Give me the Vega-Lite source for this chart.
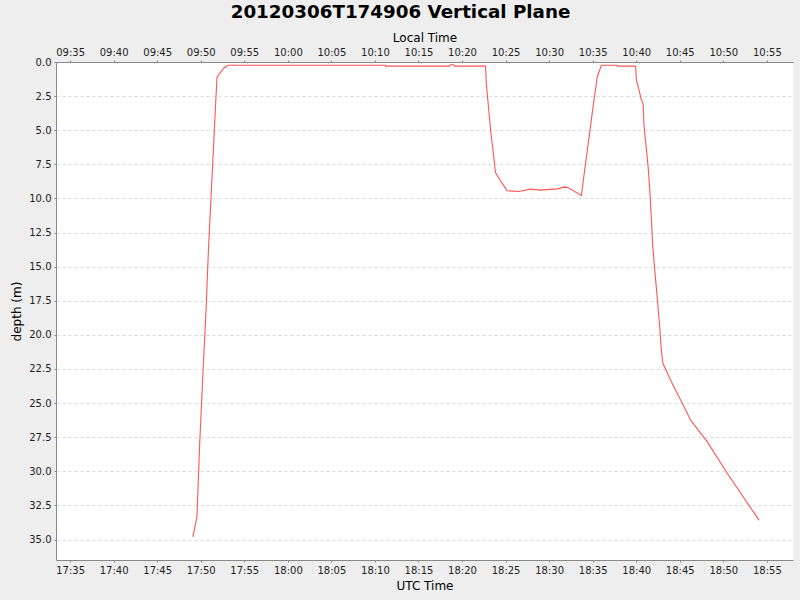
{
  "$schema": "https://vega.github.io/schema/vega-lite/v6.json",
  "description": "Glider dive depth over time, UTC on the bottom axis and local time on top.",
  "width": 737,
  "height": 498,
  "autosize": "none",
  "padding": {"left": 56, "top": 62, "right": 7, "bottom": 40},
  "background": "#eeeeee",
  "title": {
    "text": "20120306T174906 Vertical Plane",
    "font": "DejaVu Sans",
    "fontSize": 18.3,
    "fontWeight": "bold",
    "color": "#000000",
    "anchor": "middle",
    "dx": -24,
    "offset": 9
  },
  "config": {
    "view": {"fill": "#ffffff", "stroke": null},
    "axis": {
      "labelFont": "DejaVu Sans",
      "labelFontSize": 10,
      "labelColor": "#222222",
      "titleFont": "DejaVu Sans",
      "titleFontSize": 12,
      "titleFontWeight": "normal",
      "titleColor": "#000000",
      "domainColor": "#888888",
      "tickColor": "#888888",
      "tickSize": 2,
      "labelPadding": 3,
      "titlePadding": 3
    }
  },
  "data": {
    "values": [
      {"time": "2012-03-06T17:49:06Z", "depth": 34.8},
      {"time": "2012-03-06T17:49:34Z", "depth": 33.35},
      {"time": "2012-03-06T17:49:52Z", "depth": 28.2},
      {"time": "2012-03-06T17:50:13Z", "depth": 23.3},
      {"time": "2012-03-06T17:50:36Z", "depth": 18.3},
      {"time": "2012-03-06T17:50:54Z", "depth": 13.55},
      {"time": "2012-03-06T17:51:17Z", "depth": 8.66},
      {"time": "2012-03-06T17:51:37Z", "depth": 4.26},
      {"time": "2012-03-06T17:51:52Z", "depth": 1.12},
      {"time": "2012-03-06T17:52:37Z", "depth": 0.46},
      {"time": "2012-03-06T17:53:08Z", "depth": 0.24},
      {"time": "2012-03-06T18:11:12Z", "depth": 0.24},
      {"time": "2012-03-06T18:11:14Z", "depth": 0.3},
      {"time": "2012-03-06T18:18:35Z", "depth": 0.3},
      {"time": "2012-03-06T18:18:41Z", "depth": 0.2},
      {"time": "2012-03-06T18:19:02Z", "depth": 0.2},
      {"time": "2012-03-06T18:19:08Z", "depth": 0.3},
      {"time": "2012-03-06T18:22:42Z", "depth": 0.3},
      {"time": "2012-03-06T18:22:47Z", "depth": 1.56},
      {"time": "2012-03-06T18:23:17Z", "depth": 4.99},
      {"time": "2012-03-06T18:23:51Z", "depth": 8.12},
      {"time": "2012-03-06T18:24:37Z", "depth": 8.9},
      {"time": "2012-03-06T18:25:11Z", "depth": 9.44},
      {"time": "2012-03-06T18:26:32Z", "depth": 9.49},
      {"time": "2012-03-06T18:27:52Z", "depth": 9.32},
      {"time": "2012-03-06T18:29:01Z", "depth": 9.39},
      {"time": "2012-03-06T18:30:56Z", "depth": 9.3},
      {"time": "2012-03-06T18:31:42Z", "depth": 9.17},
      {"time": "2012-03-06T18:32:05Z", "depth": 9.19},
      {"time": "2012-03-06T18:33:42Z", "depth": 9.78},
      {"time": "2012-03-06T18:34:23Z", "depth": 6.46},
      {"time": "2012-03-06T18:35:09Z", "depth": 2.79},
      {"time": "2012-03-06T18:35:32Z", "depth": 1.08},
      {"time": "2012-03-06T18:36:00Z", "depth": 0.24},
      {"time": "2012-03-06T18:37:50Z", "depth": 0.24},
      {"time": "2012-03-06T18:37:55Z", "depth": 0.3},
      {"time": "2012-03-06T18:39:56Z", "depth": 0.3},
      {"time": "2012-03-06T18:40:01Z", "depth": 1.32},
      {"time": "2012-03-06T18:40:19Z", "depth": 2.05},
      {"time": "2012-03-06T18:40:36Z", "depth": 2.79},
      {"time": "2012-03-06T18:40:47Z", "depth": 3.03},
      {"time": "2012-03-06T18:40:54Z", "depth": 4.75},
      {"time": "2012-03-06T18:41:13Z", "depth": 6.7},
      {"time": "2012-03-06T18:41:22Z", "depth": 7.68},
      {"time": "2012-03-06T18:41:35Z", "depth": 9.63},
      {"time": "2012-03-06T18:41:45Z", "depth": 11.6},
      {"time": "2012-03-06T18:41:54Z", "depth": 13.55},
      {"time": "2012-03-06T18:42:10Z", "depth": 15.5},
      {"time": "2012-03-06T18:42:26Z", "depth": 17.46},
      {"time": "2012-03-06T18:42:42Z", "depth": 19.42},
      {"time": "2012-03-06T18:42:54Z", "depth": 21.25},
      {"time": "2012-03-06T18:43:03Z", "depth": 22.06},
      {"time": "2012-03-06T18:44:00Z", "depth": 23.4},
      {"time": "2012-03-06T18:45:07Z", "depth": 24.8},
      {"time": "2012-03-06T18:46:16Z", "depth": 26.27},
      {"time": "2012-03-06T18:48:11Z", "depth": 27.86},
      {"time": "2012-03-06T18:50:29Z", "depth": 30.18},
      {"time": "2012-03-06T18:54:07Z", "depth": 33.6}
    ]
  },
  "encoding": {
    "y": {
      "field": "depth",
      "type": "quantitative",
      "title": "depth (m)",
      "scale": {"domain": [0, 36.5], "reverse": true, "nice": false, "zero": false},
      "axis": {
        "values": [0, 2.5, 5, 7.5, 10, 12.5, 15, 17.5, 20, 22.5, 25, 27.5, 30, 32.5, 35],
        "format": ".1f",
        "grid": true,
        "gridColor": "#dadada",
        "gridDash": [3, 3],
        "titlePadding": 5
      }
    }
  },
  "layer": [
    {
      "mark": {"type": "line", "color": "#ff5555", "strokeWidth": 1.1},
      "encoding": {
        "x": {
          "field": "time",
          "type": "temporal",
          "title": "UTC Time",
          "scale": {
            "type": "utc",
            "domain": [1331055203000, 1331060280000],
            "nice": false
          },
          "axis": {
            "orient": "bottom",
            "format": "%H:%M",
            "values": [1331055300000, 1331055600000, 1331055900000, 1331056200000, 1331056500000, 1331056800000, 1331057100000, 1331057400000, 1331057700000, 1331058000000, 1331058300000, 1331058600000, 1331058900000, 1331059200000, 1331059500000, 1331059800000, 1331060100000],
            "grid": false,
            "titlePadding": 5
          }
        }
      }
    },
    {
      "mark": {"type": "line", "opacity": 0},
      "encoding": {
        "x": {
          "field": "time",
          "type": "temporal",
          "title": "Local Time",
          "scale": {
            "type": "utc",
            "domain": [1331055203000, 1331060280000],
            "nice": false
          },
          "axis": {
            "orient": "top",
            "values": [1331055300000, 1331055600000, 1331055900000, 1331056200000, 1331056500000, 1331056800000, 1331057100000, 1331057400000, 1331057700000, 1331058000000, 1331058300000, 1331058600000, 1331058900000, 1331059200000, 1331059500000, 1331059800000, 1331060100000],
            "labelExpr": "utcFormat(datum.value - 28800000, '%H:%M')",
            "grid": false
          }
        }
      }
    }
  ],
  "resolve": {"scale": {"x": "independent"}}
}
